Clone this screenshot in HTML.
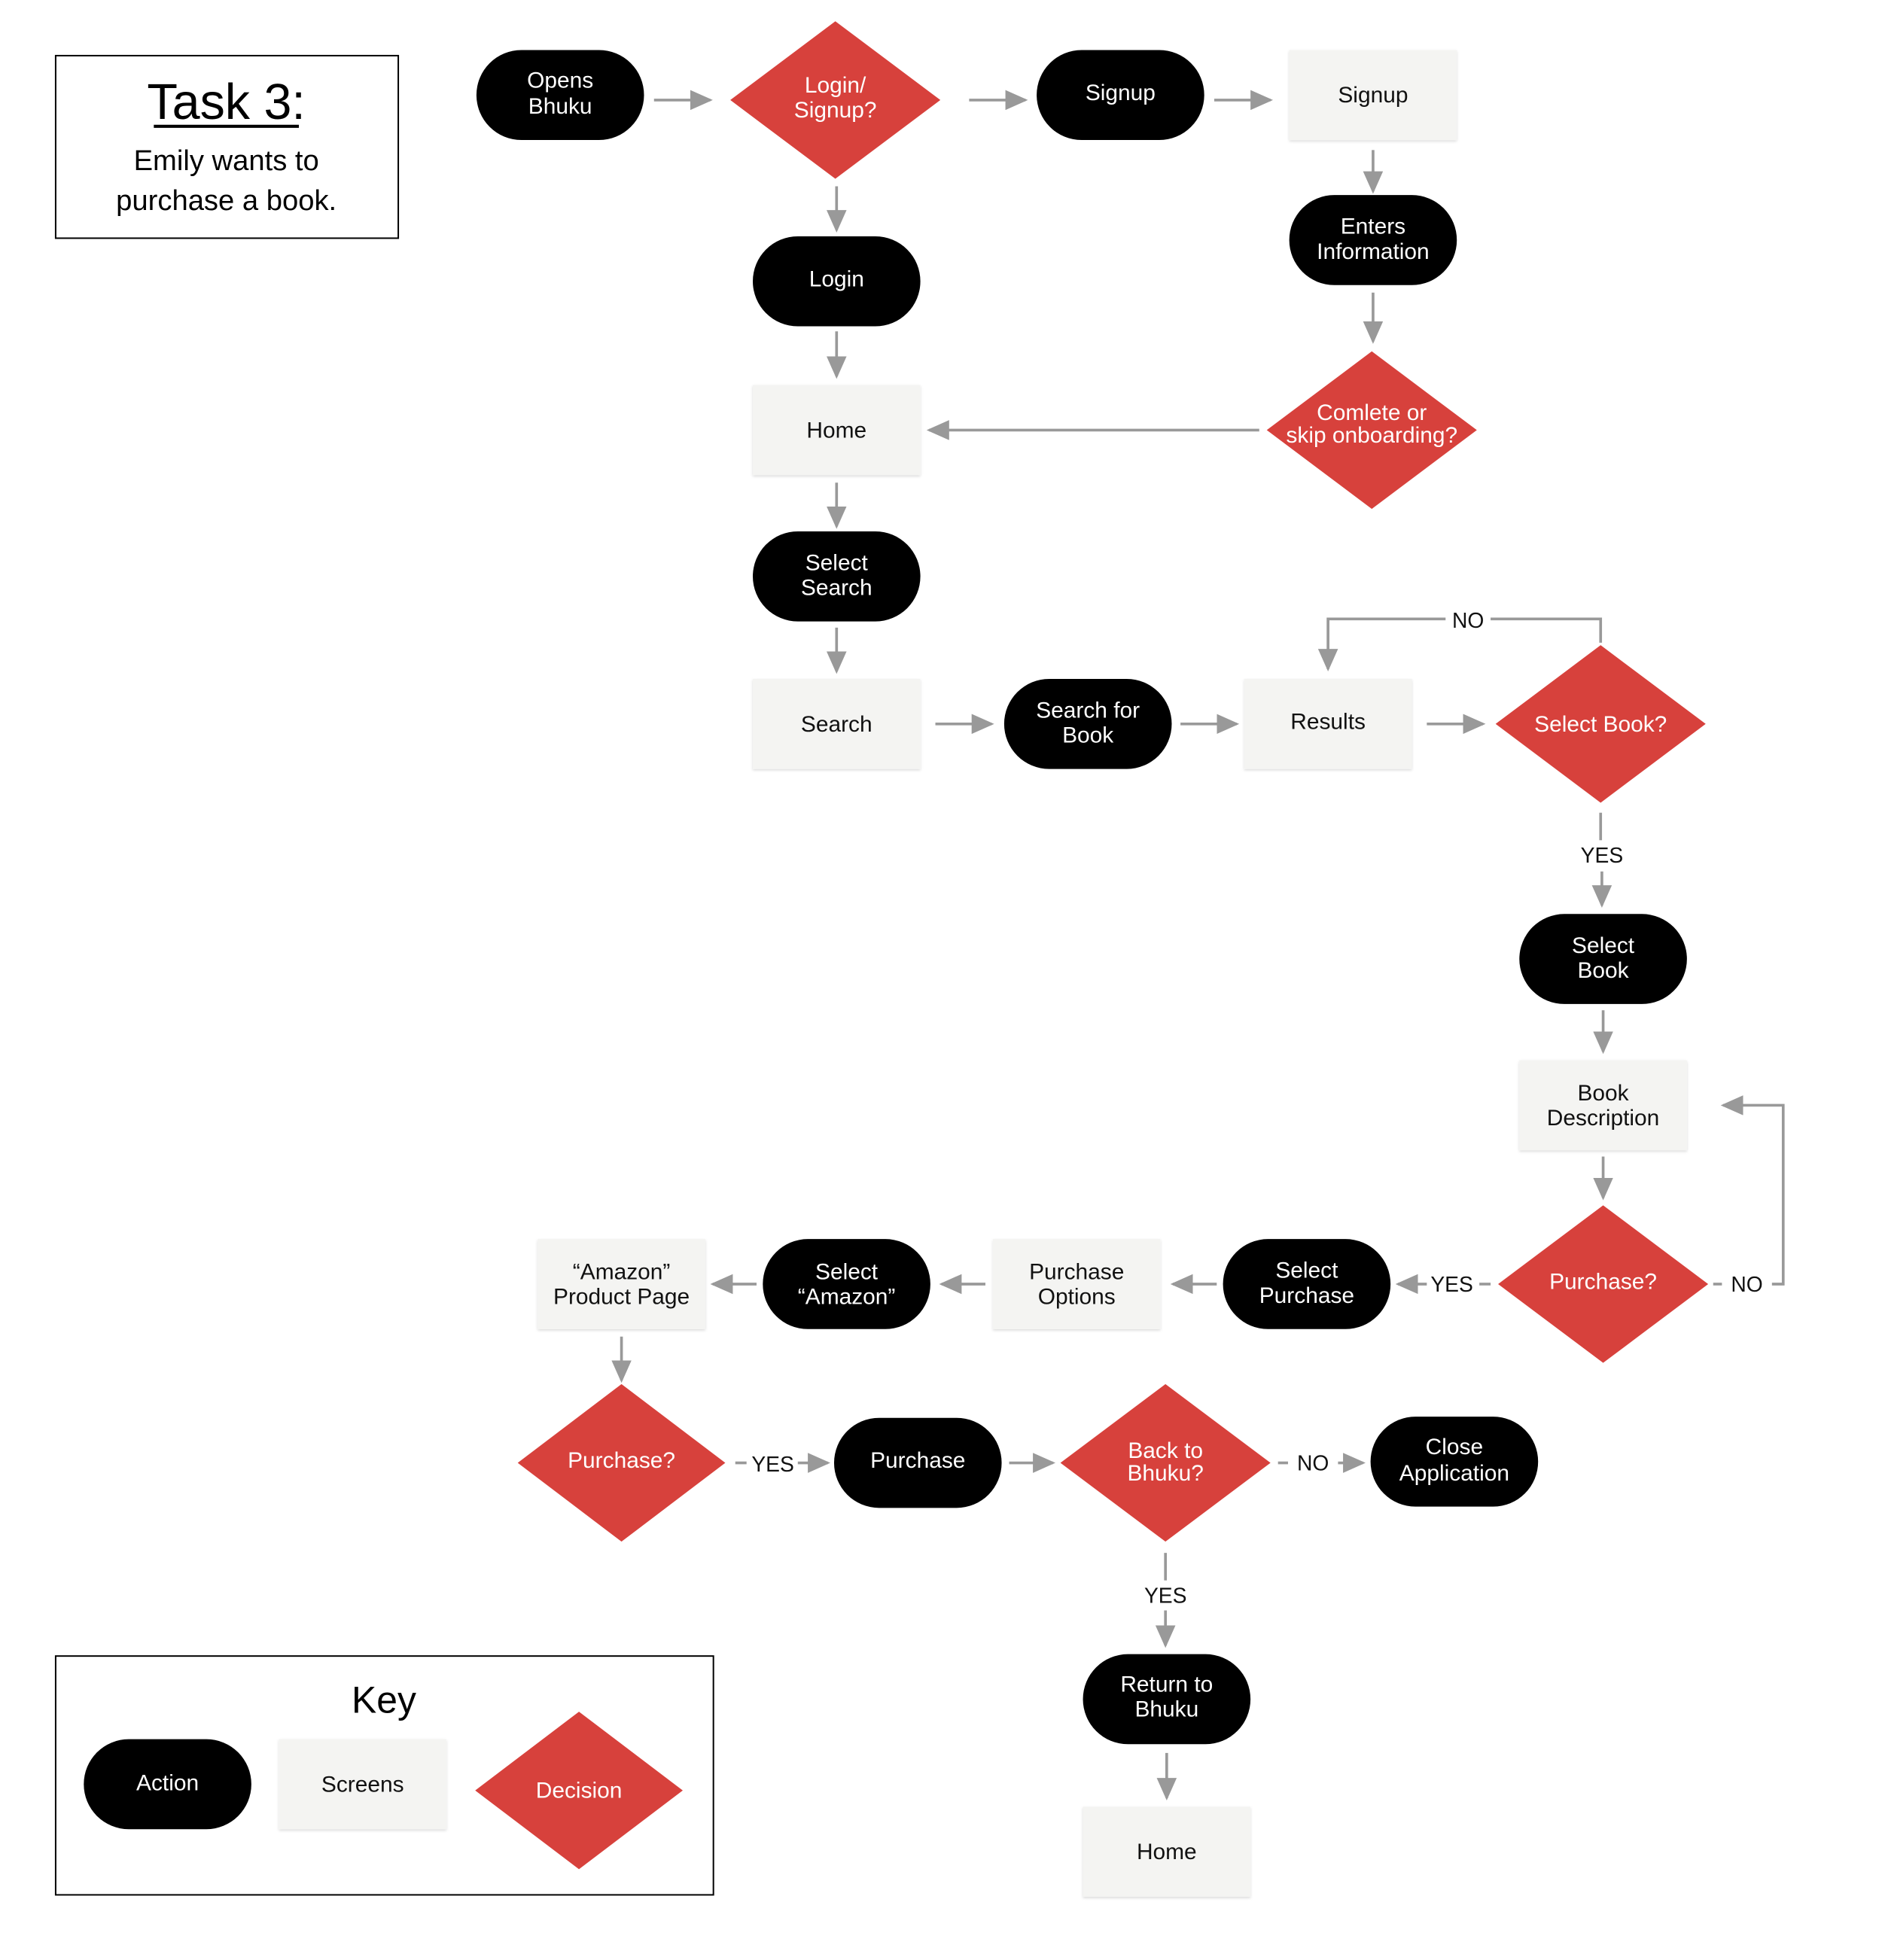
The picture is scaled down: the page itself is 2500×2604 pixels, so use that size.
<!DOCTYPE html>
<html><head><meta charset="utf-8"><style>
html,body{margin:0;padding:0;background:#fff}
svg{display:block}
text{font-family:"Liberation Sans",sans-serif}
.a{fill:#000}
.s{fill:#f4f4f2;filter:url(#sh)}
.d{fill:#d7413c}
.tw{fill:#fff;font-size:18px;text-anchor:middle}
.tb{fill:#111;font-size:18px;text-anchor:middle}
.l{stroke:#999;stroke-width:2.2;fill:none}
.ar{stroke:#999;stroke-width:2.2;fill:none;marker-end:url(#m)}
.lb{fill:#111;font-size:17px;text-anchor:middle}
</style></head><body>
<svg width="2500" height="2604" viewBox="0 0 1505 1567.6" xmlns="http://www.w3.org/2000/svg">
<defs>
<marker id="m" markerUnits="userSpaceOnUse" markerWidth="18" markerHeight="16" refX="16" refY="8" orient="auto"><path d="M0,0 L18,8 L0,16 Z" fill="#999"/></marker>
<filter id="sh" x="-10%" y="-10%" width="120%" height="130%"><feDropShadow dx="0" dy="1" stdDeviation="1.2" flood-color="#000" flood-opacity="0.15"/></filter>
</defs>

<rect x="44.5" y="44.5" width="274" height="146" fill="#fff" stroke="#000" stroke-width="1.2"/>
<text x="181" y="95" font-size="40" text-anchor="middle" fill="#000">Task 3:</text>
<line x1="123" y1="101" x2="239" y2="101" stroke="#000" stroke-width="2.5"/>
<text x="181" y="136" font-size="23" text-anchor="middle" fill="#000">Emily wants to</text>
<text x="181" y="168" font-size="23" text-anchor="middle" fill="#000">purchase a book.</text>

<rect x="44.5" y="1324.5" width="526" height="191" fill="#fff" stroke="#000" stroke-width="1.2"/>
<text x="307" y="1370" font-size="30" text-anchor="middle" fill="#000">Key</text>

<line class="ar" x1="523" y1="80" x2="568" y2="80"/>
<line class="ar" x1="775" y1="80" x2="820" y2="80"/>
<line class="ar" x1="971" y1="80" x2="1016" y2="80"/>
<line class="ar" x1="669" y1="149" x2="669" y2="184"/>
<line class="ar" x1="1098" y1="120" x2="1098" y2="153"/>
<line class="ar" x1="669" y1="265" x2="669" y2="301"/>
<line class="ar" x1="1098" y1="234" x2="1098" y2="273"/>
<line class="ar" x1="1007" y1="344" x2="743" y2="344"/>
<line class="ar" x1="669" y1="386" x2="669" y2="421"/>
<line class="ar" x1="669" y1="502" x2="669" y2="537"/>
<line class="ar" x1="748" y1="579" x2="793" y2="579"/>
<line class="ar" x1="944" y1="579" x2="989" y2="579"/>
<line class="ar" x1="1141" y1="579" x2="1186" y2="579"/>
<polyline class="l" points="1280,514 1280,495 1192,495"/>
<polyline class="ar" points="1156,495 1062,495 1062,535"/>
<text class="lb" x="1174" y="502">NO</text>
<line class="l" x1="1280" y1="650" x2="1280" y2="672"/>
<text class="lb" x="1281" y="690">YES</text>
<line class="ar" x1="1281" y1="697" x2="1281" y2="724"/>
<line class="ar" x1="1282" y1="808" x2="1282" y2="841"/>
<line class="ar" x1="1282" y1="925" x2="1282" y2="958"/>
<line class="l" x1="1370" y1="1027" x2="1377" y2="1027"/>
<text class="lb" x="1397" y="1033">NO</text>
<polyline class="ar" points="1417,1027 1426,1027 1426,884 1378,884"/>
<line class="l" x1="1192" y1="1027" x2="1183" y2="1027"/>
<text class="lb" x="1161" y="1033">YES</text>
<line class="ar" x1="1141" y1="1027" x2="1118" y2="1027"/>
<line class="ar" x1="973" y1="1027" x2="938" y2="1027"/>
<line class="ar" x1="788" y1="1027" x2="753" y2="1027"/>
<line class="ar" x1="605" y1="1027" x2="570" y2="1027"/>
<line class="ar" x1="497" y1="1069" x2="497" y2="1104"/>
<line class="l" x1="588" y1="1170" x2="597" y2="1170"/>
<text class="lb" x="618" y="1177">YES</text>
<line class="ar" x1="638" y1="1170" x2="662" y2="1170"/>
<line class="ar" x1="807" y1="1170" x2="842" y2="1170"/>
<line class="l" x1="1022" y1="1170" x2="1030" y2="1170"/>
<text class="lb" x="1050" y="1176">NO</text>
<line class="ar" x1="1070" y1="1170" x2="1090" y2="1170"/>
<line class="l" x1="932" y1="1242" x2="932" y2="1264"/>
<text class="lb" x="932" y="1282">YES</text>
<line class="ar" x1="932" y1="1288" x2="932" y2="1316"/>
<line class="ar" x1="933" y1="1402" x2="933" y2="1438"/>

<g>
<rect class="a" x="381" y="40" width="134" height="72" rx="36"/>
<text class="tw" x="448" y="70">Opens</text><text class="tw" x="448" y="91">Bhuku</text>
<rect class="a" x="829" y="40" width="134" height="72" rx="36"/>
<text class="tw" x="896" y="80">Signup</text>
<rect class="a" x="602" y="189" width="134" height="72" rx="36"/>
<text class="tw" x="669" y="229">Login</text>
<rect class="a" x="1031" y="156" width="134" height="72" rx="36"/>
<text class="tw" x="1098" y="187">Enters</text><text class="tw" x="1098" y="207">Information</text>
<rect class="a" x="602" y="425" width="134" height="72" rx="36"/>
<text class="tw" x="669" y="456">Select</text><text class="tw" x="669" y="476">Search</text>
<rect class="a" x="803" y="543" width="134" height="72" rx="36"/>
<text class="tw" x="870" y="574">Search for</text><text class="tw" x="870" y="594">Book</text>
<rect class="a" x="1215" y="731" width="134" height="72" rx="36"/>
<text class="tw" x="1282" y="762">Select</text><text class="tw" x="1282" y="782">Book</text>
<rect class="a" x="978" y="991" width="134" height="72" rx="36"/>
<text class="tw" x="1045" y="1022">Select</text><text class="tw" x="1045" y="1042">Purchase</text>
<rect class="a" x="610" y="991" width="134" height="72" rx="36"/>
<text class="tw" x="677" y="1023">Select</text><text class="tw" x="677" y="1043">“Amazon”</text>
<rect class="a" x="667" y="1134" width="134" height="72" rx="36"/>
<text class="tw" x="734" y="1174">Purchase</text>
<rect class="a" x="1096" y="1133" width="134" height="72" rx="36"/>
<text class="tw" x="1163" y="1163">Close</text><text class="tw" x="1163" y="1184">Application</text>
<rect class="a" x="866" y="1323" width="134" height="72" rx="36"/>
<text class="tw" x="933" y="1353">Return to</text><text class="tw" x="933" y="1373">Bhuku</text>
<rect class="a" x="67" y="1391" width="134" height="72" rx="36"/>
<text class="tw" x="134" y="1432">Action</text>
</g>

<g>
<rect class="s" x="1031" y="40" width="134" height="72"/>
<text class="tb" x="1098" y="82">Signup</text>
<rect class="s" x="602" y="308" width="134" height="72"/>
<text class="tb" x="669" y="350">Home</text>
<rect class="s" x="602" y="543" width="134" height="72"/>
<text class="tb" x="669" y="585">Search</text>
<rect class="s" x="995" y="543" width="134" height="72"/>
<text class="tb" x="1062" y="583">Results</text>
<rect class="s" x="1215" y="848" width="134" height="72"/>
<text class="tb" x="1282" y="880">Book</text><text class="tb" x="1282" y="900">Description</text>
<rect class="s" x="794" y="991" width="134" height="72"/>
<text class="tb" x="861" y="1023">Purchase</text><text class="tb" x="861" y="1043">Options</text>
<rect class="s" x="430" y="991" width="134" height="72"/>
<text class="tb" x="497" y="1023">“Amazon”</text><text class="tb" x="497" y="1043">Product Page</text>
<rect class="s" x="866" y="1445" width="134" height="72"/>
<text class="tb" x="933" y="1487">Home</text>
<rect class="s" x="223" y="1391" width="134" height="72"/>
<text class="tb" x="290" y="1433">Screens</text>
</g>

<g>
<polygon class="d" points="668,17 752,80 668,143 584,80"/>
<text class="tw" x="668" y="74">Login/</text><text class="tw" x="668" y="94">Signup?</text>
<polygon class="d" points="1097,281 1181,344 1097,407 1013,344"/>
<text class="tw" x="1097" y="336" font-size="16">Comlete or</text><text class="tw" x="1097" y="354" font-size="16">skip onboarding?</text>
<polygon class="d" points="1280,516 1364,579 1280,642 1196,579"/>
<text class="tw" x="1280" y="585">Select Book?</text>
<polygon class="d" points="1282,964 1366,1027 1282,1090 1198,1027"/>
<text class="tw" x="1282" y="1031">Purchase?</text>
<polygon class="d" points="497,1107 580,1170 497,1233 414,1170"/>
<text class="tw" x="497" y="1174">Purchase?</text>
<polygon class="d" points="932,1107 1016,1170 932,1233 848,1170"/>
<text class="tw" x="932" y="1166" font-size="16">Back to</text><text class="tw" x="932" y="1184" font-size="16">Bhuku?</text>
<polygon class="d" points="463,1369 546,1432 463,1495 380,1432"/>
<text class="tw" x="463" y="1438">Decision</text>
</g>
</svg>
</body></html>
